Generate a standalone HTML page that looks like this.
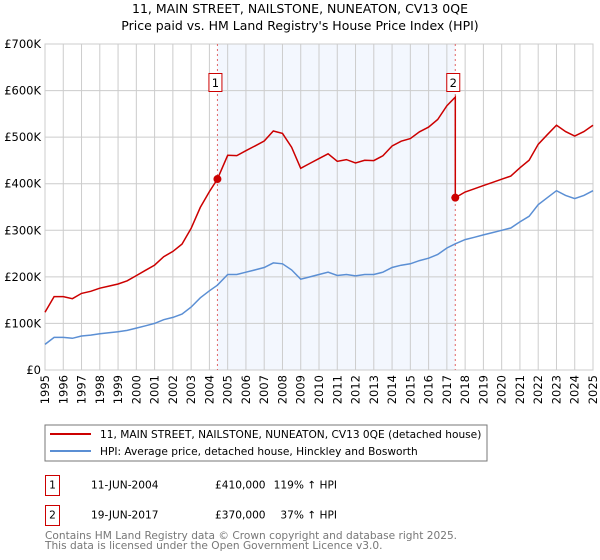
<!DOCTYPE html>
<html><head><meta charset="utf-8"><style>
body{margin:0;background:#fff;font-family:"DejaVu Sans","Liberation Sans",sans-serif}
svg{display:block}
</style></head><body>
<svg id="c" width="600" height="560" xmlns="http://www.w3.org/2000/svg" font-family="DejaVu Sans, Liberation Sans, sans-serif">
<text x="300" y="13" text-anchor="middle" font-size="12.5">11, MAIN STREET, NAILSTONE, NUNEATON, CV13 0QE</text>
<text x="300" y="30" text-anchor="middle" font-size="12.5">Price paid vs. HM Land Registry's House Price Index (HPI)</text>
<g id="plot"></g>
<g>
<rect x="45" y="425" width="442" height="36" fill="#fff" stroke="#777"/>
<line x1="50" y1="434" x2="91" y2="434" stroke="#cc0000" stroke-width="2"/>
<text x="100" y="438" font-size="10.6">11, MAIN STREET, NAILSTONE, NUNEATON, CV13 0QE (detached house)</text>
<line x1="50" y1="451" x2="91" y2="451" stroke="#5b8fd4" stroke-width="2"/>
<text x="100" y="455" font-size="10.6">HPI: Average price, detached house, Hinckley and Bosworth</text>
</g>
<g font-size="10.6">
<rect x="45.5" y="475.5" width="14" height="20" fill="none" stroke="#cc0000"/>
<text x="52.5" y="488.5" text-anchor="middle">1</text>
<text x="91" y="488.5">11-JUN-2004</text>
<text x="215" y="488.5">£410,000</text>
<text x="337" y="488.5" text-anchor="end">119% ↑ HPI</text>
<rect x="45.5" y="505.5" width="14" height="20" fill="none" stroke="#cc0000"/>
<text x="52.5" y="518.5" text-anchor="middle">2</text>
<text x="91" y="518.5">19-JUN-2017</text>
<text x="215" y="518.5">£370,000</text>
<text x="337" y="518.5" text-anchor="end">37% ↑ HPI</text>
</g>
<g font-size="10.6" fill="#777">
<text x="45" y="539">Contains HM Land Registry data © Crown copyright and database right 2025.</text>
<text x="45" y="549">This data is licensed under the Open Government Licence v3.0.</text>
</g>
</svg>
<script>
const hpiYears=[1995,1995.5,1996,1996.5,1997,1997.5,1998,1998.5,1999,1999.5,2000,2000.5,2001,2001.5,2002,2002.5,2003,2003.5,2004,2004.44,2005,2005.5,2006,2006.5,2007,2007.5,2008,2008.5,2009,2009.5,2010,2010.5,2011,2011.5,2012,2012.5,2013,2013.5,2014,2014.5,2015,2015.5,2016,2016.5,2017,2017.46,2018,2018.5,2019,2019.5,2020,2020.5,2021,2021.5,2022,2022.5,2023,2023.5,2024,2024.5,2025];
const hpiValues=[55,70,70,68,73,75,78,80,82,85,90,95,100,108,113,120,135,155,170,182,205,205,210,215,220,230,228,215,195,200,205,210,203,205,202,205,205,210,220,225,228,235,240,248,262,271,280,285,290,295,300,305,318,330,355,370,385,375,368,375,385];
const saleYears=[2004.44,2017.46];
const salePrices=[410,370];
const yTicks=[0,100,200,300,400,500,600,700];
const yTickLabels=["£0","£100K","£200K","£300K","£400K","£500K","£600K","£700K"];
const xTicks=[1995,1996,1997,1998,1999,2000,2001,2002,2003,2004,2005,2006,2007,2008,2009,2010,2011,2012,2013,2014,2015,2016,2017,2018,2019,2020,2021,2022,2023,2024,2025];

const X0=45,X1=593,Y0=370,Y1=44;
const xs=y=>X0+(y-1995)*(X1-X0)/30;
const ys=v=>Y0-v*(Y0-Y1)/700;
const NS="http://www.w3.org/2000/svg";
const plot=document.getElementById('plot');
function mk(t,a){const e=document.createElementNS(NS,t);for(const k in a)e.setAttribute(k,a[k]);plot.appendChild(e);return e;}
function hpiAt(y){for(let i=0;i<hpiYears.length-1;i++){if(y<=hpiYears[i+1]){const t=(y-hpiYears[i])/(hpiYears[i+1]-hpiYears[i]);return hpiValues[i]+t*(hpiValues[i+1]-hpiValues[i]);}}return hpiValues[hpiValues.length-1];}

const shade=mk('rect',{x:xs(saleYears[0]),y:Y1,width:xs(saleYears[1])-xs(saleYears[0]),height:Y0-Y1,fill:'#eef3fd',opacity:0.7});


yTicks.forEach((v,i)=>{
  const l=mk('line',{x1:X0,x2:X1,y1:ys(v),y2:ys(v),stroke:'#ccc'});
  
  
  const t=mk('text',{x:X0-4,y:ys(v)+4,'text-anchor':'end','font-size':'11.5'});
  t.textContent=yTickLabels[i];
  
  
});
xTicks.forEach(yr=>{
  const l=mk('line',{x1:xs(yr),x2:xs(yr),y1:Y1,y2:Y0,stroke:'#ccc'});
  
  
  const t=mk('text',{x:0,y:0,'text-anchor':'end','font-size':'11.5',transform:`translate(${xs(yr)+4},${Y0+5}) rotate(-90)`});
  t.textContent=yr;
  
  
});
const fr=mk('rect',{x:X0,y:Y1,width:X1-X0,height:Y0-Y1,fill:'none',stroke:'#ccc'});


saleYears.forEach((s,i)=>{
  const l=mk('line',{x1:xs(s),x2:xs(s),y1:Y1,y2:Y0,stroke:'#e06666','stroke-dasharray':'2,3'});
  
  
});
let d='';hpiYears.forEach((y,i)=>{d+=(i?'L':'M')+xs(y).toFixed(1)+','+ys(hpiValues[i]).toFixed(1);});
const hl=mk('path',{d:d,fill:'none',stroke:'#5b8fd4','stroke-width':1.5});


const r2=salePrices[1]/hpiAt(saleYears[1]);
const r1b=(salePrices[0]/hpiAt(saleYears[0]));
let pd='';let first=true;
hpiYears.forEach((y,i)=>{
  if(y>saleYears[1])return;
  const r=r1b*(y<=saleYears[0]?1:1-0.04*(y-saleYears[0])/(saleYears[1]-saleYears[0]));
  pd+=(first?'M':'L')+xs(y).toFixed(1)+','+ys(hpiValues[i]*r).toFixed(1);first=false;
});
pd+='L'+xs(saleYears[1]).toFixed(1)+','+ys(salePrices[1]).toFixed(1);
hpiYears.forEach((y,i)=>{if(y>saleYears[1])pd+='L'+xs(y).toFixed(1)+','+ys(hpiValues[i]*r2).toFixed(1);});
const pl=mk('path',{d:pd,fill:'none',stroke:'#cc0000','stroke-width':1.5});


saleYears.forEach((s,i)=>{
  const c=mk('circle',{cx:xs(s),cy:ys(salePrices[i]),r:4,fill:'#cc0000'});
  
  
  const b=mk('rect',{x:xs(s)-8.5,y:73.5,width:13,height:18,fill:'#fff',stroke:'#cc0000'});
  
  
  const t=mk('text',{x:xs(s)-2,y:87,'text-anchor':'middle','font-size':'11.5'});
  t.textContent=String(i+1);
  
  
});
</script>
</body></html>
